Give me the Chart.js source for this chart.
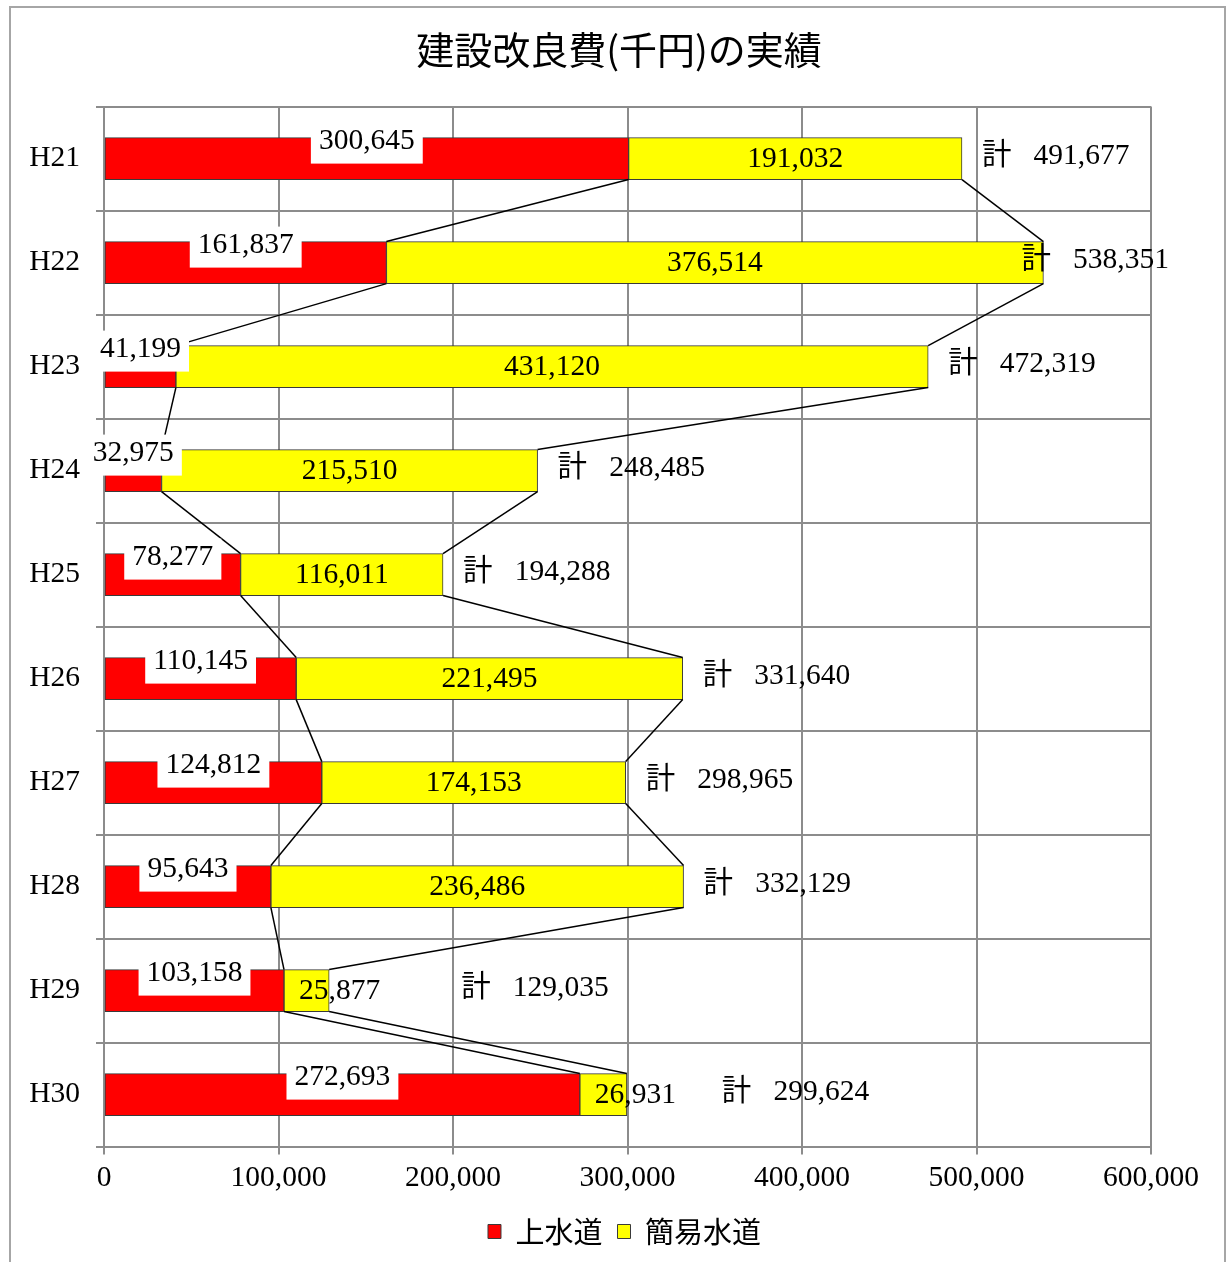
<!DOCTYPE html>
<html>
<head>
<meta charset="utf-8">
<script src="https://cdn.jsdelivr.net/npm/chart.js@4.4.1/dist/chart.umd.min.js"></script>
<style>
  html, body { margin: 0; padding: 0; background: #fff; }
  #wrap { position: absolute; left: 0; top: 0; width: 1229px; height: 1262px; }
  #frame { position: absolute; left: 9px; top: 6px; width: 1217px; height: 1270px; border: 2px solid #a6a6a6; box-sizing: border-box; }
</style>
</head>
<body>
<div id="wrap">
  <div id="frame"></div>
  <canvas id="chart" width="1229" height="1262"></canvas>
</div>
<script>
// 年度
let years = ['H21','H22','H23','H24','H25','H26','H27','H28','H29','H30'];
// 上水道 (千円)
let josuido = [300645, 161837, 41199, 32975, 78277, 110145, 124812, 95643, 103158, 272693];
// 簡易水道 (千円)
let kani = [191032, 376514, 431120, 215510, 116011, 221495, 174153, 236486, 25877, 26931];
// 計
let totals = [491677, 538351, 472319, 248485, 194288, 331640, 298965, 332129, 129035, 299624];
let xTicks = [0, 100000, 200000, 300000, 400000, 500000, 600000];

// 計ラベルの手動ずらし (px)
let totalNudge = {H22: -42, H29: 112, H30: 75};

const NUM_FONT = '"Liberation Serif", "Noto Sans CJK JP", serif';
const JP_FONT = '"Noto Sans CJK JP", sans-serif';
const NUM_SIZE = 29.5;

function fmt(v) { return v.toLocaleString('en-US'); }

// タイトル・凡例をキャンバス全幅で中央寄せ
const recenter = {
  id: 'recenter',
  afterLayout(chart) {
    if (chart.titleBlock) { chart.titleBlock.left = 9; chart.titleBlock.right = chart.width; }
    if (chart.legend) { chart.legend.left = 20; chart.legend.right = chart.width; }
  }
};

// 系列線 + ラベル
const seriesLines = {
  id: 'seriesLines',
  afterDatasetsDraw(chart) {
    const ctx = chart.ctx;
    const m0 = chart.getDatasetMeta(0).data;
    const m1 = chart.getDatasetMeta(1).data;

    ctx.save();
    ctx.strokeStyle = '#000';
    ctx.lineWidth = 1.5;
    [m0, m1].forEach(function(meta) {
      for (let i = 0; i < meta.length - 1; i++) {
        let a = meta[i], b = meta[i+1];
        ctx.beginPath();
        ctx.moveTo(a.x, a.y + a.height/2);
        ctx.lineTo(b.x, b.y - b.height/2);
        ctx.stroke();
      }
    });

    ctx.font = NUM_SIZE + 'px ' + NUM_FONT;
    ctx.textBaseline = 'middle';
    // 上水道 ラベル（白い箱）
    for (let i = 0; i < m0.length; i++) {
      let el = m0[i];
      let txt = fmt(josuido[i]);
      let w = ctx.measureText(txt).width;
      let cx = (el.base + el.x) / 2;
      let cy = el.y - 17;
      ctx.fillStyle = '#fff';
      ctx.fillRect(cx - w/2 - 8, cy - 19, w + 16, 41);
      ctx.fillStyle = '#000';
      ctx.textAlign = 'center';
      ctx.fillText(txt, cx, cy);
    }
    // 簡易水道 ラベル
    for (let i = 0; i < m1.length; i++) {
      let el = m1[i];
      let txt = fmt(kani[i]);
      let w = ctx.measureText(txt).width;
      ctx.fillStyle = '#000';
      if (el.x - el.base > w + 10) {
        ctx.textAlign = 'center';
        ctx.fillText(txt, (el.base + el.x) / 2, el.y + 1);
      } else {
        ctx.textAlign = 'left';
        ctx.fillText(txt, el.base + 15, el.y + 1);
      }
    }
    // 計 ラベル
    for (let i = 0; i < m1.length; i++) {
      let el = m1[i];
      let x = el.x + 20 + (totalNudge[years[i]] || 0);
      ctx.textAlign = 'left';
      ctx.fillStyle = '#000';
      ctx.fillText('計   ' + fmt(totals[i]), x, el.y - 2);
    }
    ctx.restore();
  }
};

new Chart(document.getElementById('chart'), {
  type: 'bar',
  data: {
    labels: years,
    datasets: [
      { label: '上水道', data: josuido, backgroundColor: '#ff0000', borderColor: '#3a3a3a', borderWidth: 1 },
      { label: '簡易水道', data: kani, backgroundColor: '#ffff00', borderColor: '#3a3a3a', borderWidth: 1 }
    ]
  },
  options: {
    indexAxis: 'y',
    responsive: false,
    animation: false,
    events: [],
    layout: { padding: { left: 10, right: 78, top: 0, bottom: 6 } },
    datasets: { bar: { barThickness: 42, borderSkipped: false } },
    scales: {
      x: {
        stacked: true,
        min: 0, max: 600000,
        afterBuildTicks(scale) { scale.ticks = xTicks.map(v => ({ value: v })); },
        grid: { color: '#8c8c8c', lineWidth: 2, tickLength: 8 },
        border: { color: '#8c8c8c', width: 2 },
        ticks: {
          color: '#000', padding: 6,
          font: { family: NUM_FONT, size: NUM_SIZE },
          callback: v => fmt(v)
        }
      },
      y: {
        stacked: true,
        afterFit(scale) { scale.width = 94; },
        grid: { color: '#8c8c8c', lineWidth: 2, tickLength: 8 },
        border: { color: '#8c8c8c', width: 2 },
        ticks: { color: '#000', padding: 16, font: { family: NUM_FONT, size: NUM_SIZE } }
      }
    },
    plugins: {
      title: {
        display: true,
        text: '建設改良費(千円)の実績',
        color: '#000',
        font: { family: JP_FONT, size: 38, weight: 'normal' },
        padding: { top: 27, bottom: 34 }
      },
      legend: {
        position: 'bottom',
        labels: {
          color: '#000',
          font: { family: JP_FONT, size: 29 },
          boxWidth: 13, boxHeight: 14, padding: 15
        }
      },
      tooltip: { enabled: false }
    }
  },
  plugins: [recenter, seriesLines]
});
</script>
</body>
</html>
